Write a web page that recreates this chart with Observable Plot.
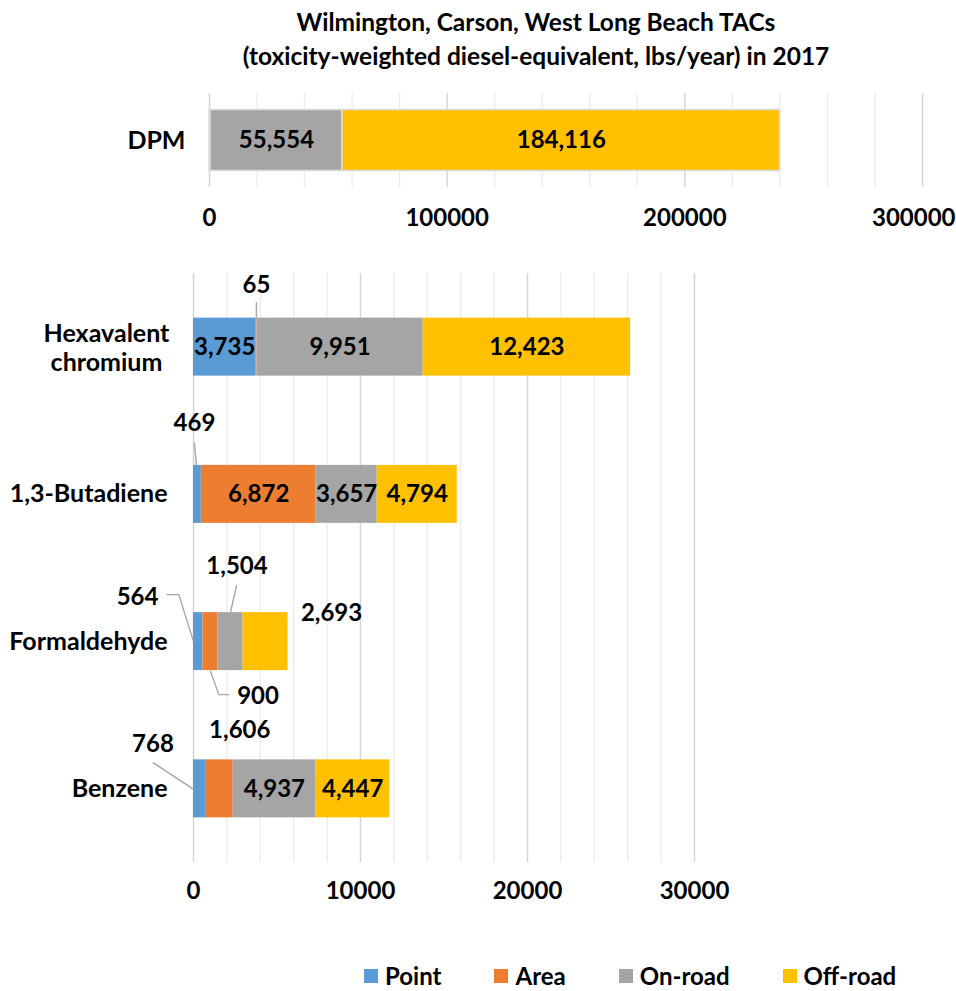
<!DOCTYPE html>
<html>
<head>
<meta charset="utf-8">
<script src="https://cdn.jsdelivr.net/npm/d3@7"></script>
<script src="https://cdn.jsdelivr.net/npm/@observablehq/plot@0.6"></script>
<style>
  body { margin: 0; background: #fff; }
  #root { position: relative; width: 956px; height: 991px; overflow: hidden; background: #fff;
          font-family: Lato, "Open Sans", sans-serif; font-weight: 700; color: #000; }
  #title { position: absolute; left: 86px; width: 900px; top: 5px; text-align: center;
           font-size: 24.5px; line-height: 34px; white-space: nowrap; }
  #top { position: absolute; left: 0; top: 85px; }
  #bottom { position: absolute; left: 0; top: 264px; }
  #legend { position: absolute; left: 364px; top: 964px; display: flex; align-items: center;
            font-size: 24px; line-height: 24px; white-space: nowrap; }
  .item { display: flex; align-items: center; margin-right: 53px; }
  .sw { width: 14px; height: 14px; margin-right: 7px; }
</style>
</head>
<body>
<div id="root">
  <div id="title">Wilmington, Carson, West Long Beach TACs<br>(toxicity-weighted diesel-equivalent, lbs/year) in 2017</div>
  <div id="top"></div>
  <div id="bottom"></div>
  <div id="legend"></div>
</div>
<script>
// ---------- data ----------
const sources = ["Point", "Area", "On-road", "Off-road"];
const sourceColors = ["#5B9BD5", "#ED7D31", "#A5A5A5", "#FFC000"];

const topCategories = ["DPM"];
const dpmValues = [0, 400, 55554, 184116];          // Point, Area, On-road, Off-road
const topTicks = [0, 100000, 200000, 300000];
const topMinorTicks = [20000, 40000, 60000, 80000, 120000, 140000, 160000, 180000, 220000, 240000, 260000, 280000];

const categories = ["Hexavalent\nchromium", "1,3-Butadiene", "Formaldehyde", "Benzene"];
const pointValues   = [3735, 469, 564, 768];
const areaValues    = [65, 6872, 900, 1606];
const onroadValues  = [9951, 3657, 1504, 4937];
const offroadValues = [12423, 4794, 2693, 4447];
const bottomTicks = [0, 10000, 20000, 30000];
const bottomMinorTicks = [2000, 4000, 6000, 8000, 12000, 14000, 16000, 18000, 22000, 24000, 26000, 28000];

// ---------- label layout (pixel offsets from segment centre) ----------
const hiddenLabels = new Set(["DPM|Point", "DPM|Area"]);
const outsideLabels = {
  "Hexavalent\nchromium|Area": {dx: 0, dy: -62, leader: [[0, -44.5], [0, -29]]},
  "1,3-Butadiene|Point": {dx: -3, dy: -71, leader: [[-3, -51.3], [-1, -29]]},
  "Formaldehyde|Point": {dx: -60.7, dy: -44, leader: [[-31, -47], [-19.4, -47], [-5, -1]]},
  "Formaldehyde|Area": {dx: 47.6, dy: 55, leader: [[0, 29.5], [8.4, 53], [18.4, 53]]},
  "Formaldehyde|On-road": {dx: 6.5, dy: -75, leader: [[6, -56], [0, -29.5]]},
  "Formaldehyde|Off-road": {dx: 66, dy: -28, leader: null},
  "Benzene|Point": {dx: -47, dy: -45, leader: [[-46.7, -26.3], [-6.7, 0.3]]},
  "Benzene|Area": {dx: 20, dy: -59, leader: null}
};

const fmt = d3.format(",");
function stackRows(cats, valueArrays) {
  const rows = [];
  cats.forEach((c, i) => {
    let acc = 0;
    sources.forEach((s, j) => {
      const v = valueArrays[j][i];
      const key = c + "|" + s;
      rows.push({cat: c, i, source: s, value: v, x1: acc, x2: acc + v, mid: acc + v / 2,
                 label: fmt(v), key, hidden: hiddenLabels.has(key), out: outsideLabels[key]});
      acc += v;
    });
  });
  return rows;
}

const font = {fontFamily: "Lato, 'Open Sans', sans-serif", fontSize: "24px", fontWeight: "bold",
              color: "#000", background: "transparent", overflow: "visible"};
const colorScale = {domain: sources, range: sourceColors};

function tickLabels(ticks, offset, lastShift) {
  return [
    Plot.text(ticks.slice(0, -1), {x: d => d, text: d => String(d), frameAnchor: "bottom", dy: offset, fill: "#000"}),
    Plot.text(ticks.slice(-1), {x: d => d, text: d => String(d), frameAnchor: "bottom", dy: offset,
              textAnchor: lastShift ? "end" : "middle", dx: lastShift || 0, fill: "#000"})
  ];
}

// ---------- top chart ----------
{
  const W = 956, H = 160, mL = 209, mR = 34, mT = 8, mB = 58;
  const rows = stackRows(topCategories, [[dpmValues[0]], [dpmValues[1]], [dpmValues[2]], [dpmValues[3]]]);
  const half = 30.5 / (H - mT - mB);
  const chart = Plot.plot({
    width: W, height: H, marginLeft: mL, marginRight: mR, marginTop: mT, marginBottom: mB,
    style: font,
    x: {domain: [0, 300000], axis: null},
    y: {domain: [0.5, -0.5], axis: null},
    color: colorScale,
    marks: [
      Plot.ruleX(topMinorTicks, {stroke: "#EBEBEB", strokeWidth: 1.3}),
      Plot.ruleX(topTicks, {stroke: "#D6D6D6", strokeWidth: 1.5}),
      Plot.rect(rows, {x1: "x1", x2: "x2", y1: d => d.i - half, y2: d => d.i + half, fill: "source",
                       stroke: "#DCDCDC", strokeWidth: 1.5}),
      Plot.text(rows.filter(d => !d.hidden), {x: "mid", y: "i", text: "label", fill: "#000"}),
      Plot.text(topCategories, {y: (d, i) => i, text: d => d, frameAnchor: "left", textAnchor: "end",
                dx: -24, fontSize: 25, fill: "#000"}),
      ...tickLabels(topTicks, 38, 33)
    ]
  });
  document.getElementById("top").appendChild(chart);
}

// ---------- bottom chart ----------
{
  const W = 956, H = 660, mL = 193, mR = 262, mT = 9, mB = 62;
  const xMax = 30000;
  const kx = xMax / (W - mL - mR);
  const ky = categories.length / (H - mT - mB);
  const half = 29 * ky;
  const rows = stackRows(categories, [pointValues, areaValues, onroadValues, offroadValues]);
  const inside = rows.filter(d => !d.out && !d.hidden);
  const outside = rows.filter(d => d.out);
  const leaders = [];
  outside.forEach(d => {
    if (d.out.leader) d.out.leader.forEach(([px, py]) => leaders.push({key: d.key, x: d.mid + px * kx, y: d.i + py * ky}));
  });
  const chart = Plot.plot({
    width: W, height: H, marginLeft: mL, marginRight: mR, marginTop: mT, marginBottom: mB,
    style: font,
    x: {domain: [0, xMax], axis: null},
    y: {domain: [categories.length - 0.5, -0.5], axis: null},
    color: colorScale,
    marks: [
      Plot.ruleX(bottomMinorTicks, {stroke: "#EBEBEB", strokeWidth: 1.3}),
      Plot.ruleX(bottomTicks, {stroke: "#D6D6D6", strokeWidth: 1.5}),
      Plot.rect(rows, {x1: "x1", x2: "x2", y1: d => d.i - half, y2: d => d.i + half, fill: "source"}),
      Plot.line(leaders, {x: "x", y: "y", z: "key", stroke: "#A6A6A6", strokeWidth: 1.4}),
      Plot.text(inside, {x: "mid", y: "i", text: "label", fill: "#000"}),
      Plot.text(outside, {x: d => d.mid + d.out.dx * kx, y: d => d.i + d.out.dy * ky, text: "label", fill: "#000"}),
      Plot.text(categories.filter(c => !c.includes("\n")), {y: c => categories.indexOf(c), text: d => d,
                frameAnchor: "left", textAnchor: "end", dx: -26, fontSize: 25, fill: "#000"}),
      Plot.text(categories.filter(c => c.includes("\n")), {y: c => categories.indexOf(c), text: d => d,
                frameAnchor: "left", textAnchor: "middle", dx: -87, lineHeight: 1.16, fontSize: 25, fill: "#000"}),
      ...tickLabels(bottomTicks, 36, 0)
    ]
  });
  document.getElementById("bottom").appendChild(chart);
}

// ---------- legend ----------
{
  const lg = document.getElementById("legend");
  sources.forEach((s, j) => {
    const it = document.createElement("div");
    it.className = "item";
    const sw = document.createElement("div");
    sw.className = "sw";
    sw.style.background = sourceColors[j];
    const tx = document.createElement("span");
    tx.textContent = s;
    it.appendChild(sw); it.appendChild(tx);
    lg.appendChild(it);
  });
}
</script>
</body>
</html>
